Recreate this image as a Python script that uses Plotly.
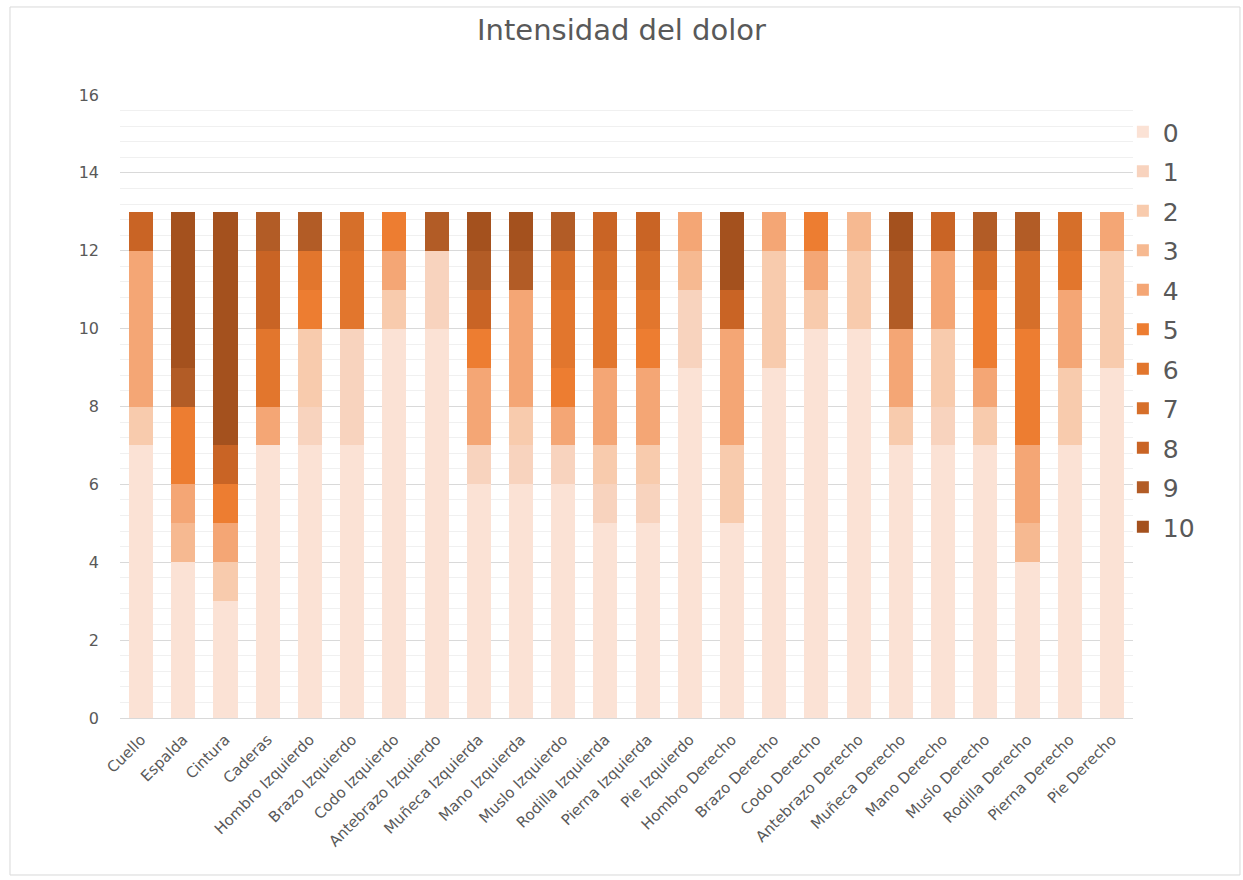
import plotly.graph_objects as go

# Body regions (x categories)
categorias = [
    "Cuello", "Espalda", "Cintura", "Caderas", "Hombro Izquierdo", "Brazo Izquierdo",
    "Codo Izquierdo", "Antebrazo Izquierdo", "Muñeca Izquierda", "Mano Izquierda",
    "Muslo Izquierdo", "Rodilla Izquierda", "Pierna Izquierda", "Pie Izquierdo",
    "Hombro Derecho", "Brazo Derecho", "Codo Derecho", "Antebrazo Derecho",
    "Muñeca Derecho", "Mano Derecho", "Muslo Derecho", "Rodilla Derecho",
    "Pierna Derecho", "Pie Derecho",
]

# Number of responses per pain level (0..10) for each region
nivel_0 = [7, 4, 3, 7, 7, 7, 10, 10, 6, 6, 6, 5, 5, 9, 5, 9, 10, 10, 7, 7, 7, 4, 7, 9]
nivel_1 = [0, 0, 0, 0, 1, 3, 0, 2, 1, 1, 1, 1, 1, 2, 0, 0, 0, 0, 0, 1, 0, 0, 0, 0]
nivel_2 = [1, 0, 1, 0, 2, 0, 1, 0, 0, 1, 0, 1, 1, 0, 2, 3, 1, 2, 1, 2, 1, 0, 2, 3]
nivel_3 = [0, 1, 0, 0, 0, 0, 0, 0, 0, 0, 0, 0, 0, 1, 0, 0, 0, 1, 0, 0, 0, 1, 0, 0]
nivel_4 = [4, 1, 1, 1, 0, 0, 1, 0, 2, 3, 1, 2, 2, 1, 3, 1, 1, 0, 2, 2, 1, 2, 2, 1]
nivel_5 = [0, 2, 1, 0, 1, 0, 1, 0, 1, 0, 1, 0, 1, 0, 0, 0, 1, 0, 0, 0, 2, 3, 0, 0]
nivel_6 = [0, 0, 0, 2, 1, 2, 0, 0, 0, 0, 2, 2, 1, 0, 0, 0, 0, 0, 0, 0, 0, 0, 1, 0]
nivel_7 = [0, 0, 0, 0, 0, 1, 0, 0, 0, 0, 1, 1, 1, 0, 0, 0, 0, 0, 0, 0, 1, 2, 1, 0]
nivel_8 = [1, 0, 1, 2, 0, 0, 0, 0, 1, 0, 0, 1, 1, 0, 1, 0, 0, 0, 0, 1, 0, 0, 0, 0]
nivel_9 = [0, 1, 0, 1, 1, 0, 0, 1, 1, 1, 1, 0, 0, 0, 0, 0, 0, 0, 2, 0, 1, 1, 0, 0]
nivel_10 = [0, 4, 6, 0, 0, 0, 0, 0, 1, 1, 0, 0, 0, 0, 2, 0, 0, 0, 1, 0, 0, 0, 0, 0]

niveles = ["0", "1", "2", "3", "4", "5", "6", "7", "8", "9", "10"]
series = [nivel_0, nivel_1, nivel_2, nivel_3, nivel_4, nivel_5,
          nivel_6, nivel_7, nivel_8, nivel_9, nivel_10]

# Monochromatic orange palette, light to dark
colores = ["#FBE2D5", "#F8D3BE", "#F8CBAD", "#F6B991", "#F4A675", "#ED7D31",
           "#E2762D", "#D66F2A", "#C96425", "#B25C26", "#A4511E"]

fig = go.Figure()
for nombre, valores, color in zip(niveles, series, colores):
    fig.add_trace(go.Bar(
        x=categorias, y=valores, name=nombre, legendgroup=nombre,
        marker=dict(color=color, line=dict(width=0)),
    ))

texto = "#595959"
fuente = "DejaVu Sans, sans-serif"

fig.update_layout(
    width=1243, height=880,
    barmode="stack", bargap=0.43,
    paper_bgcolor="white", plot_bgcolor="white",
    margin=dict(l=120, r=110, t=95, b=162),
    font=dict(family=fuente, color=texto),
    title=dict(text="Intensidad del dolor", x=0.5, xanchor="center",
               y=0.966, yanchor="middle",
               font=dict(size=29, color=texto, family=fuente)),
    legend=dict(x=0.990, xanchor="left", y=0.9775, yanchor="top",
                traceorder="grouped", tracegroupgap=4,
                font=dict(size=25, color=texto, family=fuente),
                itemwidth=30, bgcolor="rgba(0,0,0,0)"),
    xaxis=dict(tickangle=-45, tickfont=dict(size=15, color=texto),
               showline=True, linecolor="#D9D9D9", linewidth=1,
               showgrid=False, ticks="", ticklabelstandoff=6),
    yaxis=dict(range=[0, 16], dtick=2, tickfont=dict(size=16, color=texto),
               showgrid=True, gridcolor="#D9D9D9", gridwidth=1,
               zeroline=False, ticklabelstandoff=20,
               minor=dict(dtick=0.4, showgrid=True, gridcolor="#F0F0F0", gridwidth=1)),
    shapes=[dict(type="rect", xref="paper", yref="paper",
                 x0=-0.1086, x1=1.1056, y0=-0.252, y1=1.1413,
                 line=dict(color="#D9D9D9", width=1), fillcolor="rgba(0,0,0,0)",
                 layer="below")],
)

fig.write_html("out.html")
